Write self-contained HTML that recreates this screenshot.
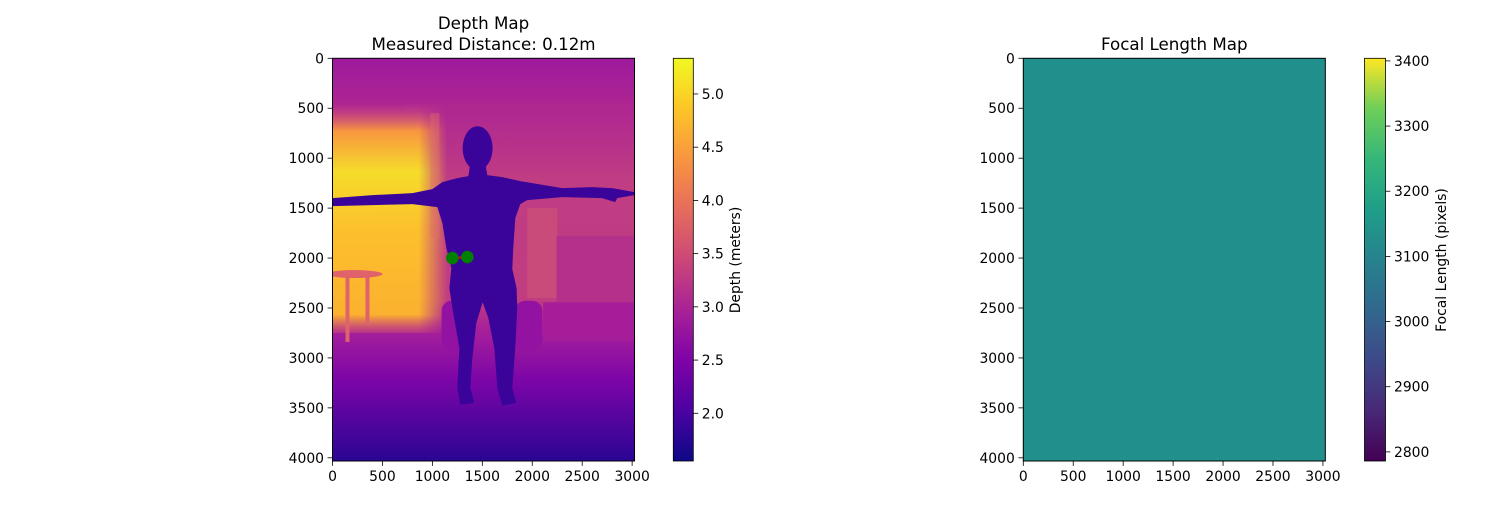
<!DOCTYPE html>
<html><head><meta charset="utf-8"><style>
body{margin:0;background:#fff;}
svg text{font-family:"DejaVu Sans","Liberation Sans",sans-serif;fill:#000;}
</style></head><body>
<svg id="fig" width="1500" height="500" viewBox="0 0 1500 500" xmlns="http://www.w3.org/2000/svg">
<defs>
<linearGradient id="bgGrad" x1="0" y1="0" x2="0" y2="1">
<stop offset="0" stop-color="#9e199d"/><stop offset="0.12" stop-color="#ad2692"/>
<stop offset="0.3" stop-color="#c03c83"/><stop offset="0.6" stop-color="#c03d82"/>
<stop offset="0.67" stop-color="#a8219a"/><stop offset="0.8" stop-color="#7c05a8"/>
<stop offset="1" stop-color="#2a0593"/></linearGradient>
<linearGradient id="yelV" x1="0" y1="0" x2="0" y2="1">
<stop offset="0" stop-color="#d8577a" stop-opacity="0"/><stop offset="0.12" stop-color="#f8963f"/>
<stop offset="0.3" stop-color="#f6dc2a"/><stop offset="0.55" stop-color="#fcc02c"/>
<stop offset="0.92" stop-color="#fbb12f"/><stop offset="1" stop-color="#e56a5e" stop-opacity="0.3"/></linearGradient>
<linearGradient id="fadeH" x1="0" y1="0" x2="1" y2="0">
<stop offset="0" stop-color="#fff"/><stop offset="0.75" stop-color="#fff"/><stop offset="1" stop-color="#fff" stop-opacity="0"/></linearGradient>
<mask id="yelMask" maskUnits="userSpaceOnUse" x="0" y="0" width="3024" height="4032"><rect x="0" y="0" width="1150" height="4032" fill="url(#fadeH)"/></mask>
<linearGradient id="plasmaGrad" x1="0" y1="1" x2="0" y2="0">
<stop offset="0" stop-color="#0d0887"/><stop offset="0.125" stop-color="#4c02a1"/><stop offset="0.25" stop-color="#7e03a8"/>
<stop offset="0.375" stop-color="#a82296"/><stop offset="0.5" stop-color="#cc4778"/><stop offset="0.625" stop-color="#e66c5c"/>
<stop offset="0.75" stop-color="#f89540"/><stop offset="0.875" stop-color="#fdc527"/><stop offset="1" stop-color="#f0f921"/></linearGradient>
<linearGradient id="viridisGrad" x1="0" y1="1" x2="0" y2="0">
<stop offset="0" stop-color="#440154"/><stop offset="0.125" stop-color="#482878"/><stop offset="0.25" stop-color="#3e4989"/>
<stop offset="0.375" stop-color="#31688e"/><stop offset="0.5" stop-color="#26828e"/><stop offset="0.625" stop-color="#1f9e89"/>
<stop offset="0.75" stop-color="#35b779"/><stop offset="0.875" stop-color="#6ece58"/><stop offset="1" stop-color="#fde725"/></linearGradient>
<clipPath id="imgClip"><rect x="0" y="0" width="3024" height="4032"/></clipPath>
</defs>
<g id="root"></g>
</svg>
<script>
const imgW = 3024, imgH = 4032;
const xTicks = [0,500,1000,1500,2000,2500,3000];
const yTicks = [0,500,1000,1500,2000,2500,3000,3500,4000];
const depthTicks = [2.0,2.5,3.0,3.5,4.0,4.5,5.0];
const depthRange = [1.552,5.335];
const focalTicks = [2800,2900,3000,3100,3200,3300,3400];
const focalRange = [2786,3404];
const focalValue = 3100;
const measuredDistance = 0.12;
const pointX = [1200,1350];
const pointY = [2000,1990];

const NS="http://www.w3.org/2000/svg";
const root=document.getElementById('root');
function mk(tag,attrs,parent){const e=document.createElementNS(NS,tag);for(const k in attrs)e.setAttribute(k,attrs[k]);(parent||root).appendChild(e);return e;}
function txt(s,x,y,anchor,size,parent){const t=mk('text',{x:x,y:y,'text-anchor':anchor,'font-size':size},parent);t.textContent=s;return t;}

const axTop=58.3, axBot=461.0, scale=(axBot-axTop)/imgH;
function makeAxes(left,name){
  const g=mk('g',{});
  
  
  const right=left+imgW*scale;
  const sx=v=>left+v*scale, sy=v=>axTop+v*scale;
  return {g,left,right,sx,sy};
}
function frameAndTicks(a){
  mk('rect',{x:a.left,y:axTop,width:a.right-a.left,height:axBot-axTop,fill:'none',stroke:'#000','stroke-width':1},a.g);
  xTicks.forEach(v=>{const x=a.sx(v);mk('line',{x1:x,x2:x,y1:axBot,y2:axBot+4.9,stroke:'#000','stroke-width':0.8},a.g);
    const t=txt(String(v),x,axBot+20,'middle',13.9,a.g);});
  yTicks.forEach(v=>{const y=a.sy(v);mk('line',{x1:a.left-4.9,x2:a.left,y1:y,y2:y,stroke:'#000','stroke-width':0.8},a.g);
    const t=txt(String(v),a.left-8.5,y+5,'end',13.9,a.g);});
}
function colorbar(x0,w,grad,ticks,range,fmt,name){
  const g=mk('g',{});
  
  
  mk('rect',{x:x0,y:axTop,width:w,height:axBot-axTop,fill:'url(#'+grad+')',stroke:'#000','stroke-width':0.8},g);
  const cy=v=>axBot-(v-range[0])/(range[1]-range[0])*(axBot-axTop);
  ticks.forEach(v=>{const y=cy(v);mk('line',{x1:x0+w,x2:x0+w+4.9,y1:y,y2:y,stroke:'#000','stroke-width':0.8},g);
    const t=txt(fmt(v),x0+w+8.5,y+5,'start',13.9,g);});
  return {g,cy};
}

// Depth map
const A=makeAxes(332.5,'depth-map');
const img=mk('g',{transform:`translate(${A.left},${axTop}) scale(${scale})`,'clip-path':'url(#imgClip)'},A.g);


mk('rect',{x:0,y:0,width:imgW,height:imgH,fill:'url(#bgGrad)'},img);
mk('rect',{x:700,y:450,width:2300,height:80,fill:'#b02a90',opacity:0.5},img);
mk('rect',{x:0,y:450,width:1150,height:2300,fill:'url(#yelV)',mask:'url(#yelMask)'},img);
mk('rect',{x:980,y:550,width:90,height:1250,fill:'#e0706a',opacity:0.4},img);
mk('rect',{x:1950,y:1500,width:300,height:900,fill:'#d05a72',opacity:0.5},img);
mk('rect',{x:2243,y:1777,width:781,height:666,fill:'#b3308b'},img);
mk('rect',{x:2110,y:2443,width:914,height:384,fill:'#a51d98'},img);
mk('rect',{x:1093,y:2427,width:230,height:500,rx:100,fill:'#9412a1'},img);
mk('rect',{x:1830,y:2427,width:270,height:500,rx:100,fill:'#9412a1'},img);
mk('ellipse',{cx:220,cy:2160,rx:280,ry:40,fill:'#e0626b'},img);
mk('rect',{x:130,y:2160,width:40,height:680,fill:'#e0626b'},img);
mk('rect',{x:330,y:2160,width:40,height:500,fill:'#e0626b'},img);
const head=mk('ellipse',{cx:1453,cy:900,rx:150,ry:220,fill:'#3a049b'},img);


const person=mk('polygon',{fill:'#3a049b',points:"0,1400 400,1370 800,1350 1000,1310 1100,1240 1250,1200 1360,1180 1380,1050 1530,1050 1550,1170 1700,1190 1880,1230 2300,1300 2600,1290 2800,1300 3024,1340 3024,1370 2850,1400 2830,1440 2700,1400 2300,1390 1950,1420 1880,1460 1830,1600 1810,1900 1800,2110 1843,2300 1850,2500 1830,2900 1800,3300 1840,3450 1700,3480 1650,3300 1620,2900 1560,2600 1503,2443 1440,2650 1400,3000 1380,3300 1420,3450 1280,3470 1250,3300 1270,2900 1200,2500 1170,2300 1190,2100 1140,1900 1100,1650 1050,1490 800,1460 400,1470 0,1480"},img);


const ml=mk('line',{x1:A.sx(pointX[0]),y1:A.sy(pointY[0]),x2:A.sx(pointX[1]),y2:A.sy(pointY[1]),stroke:'red','stroke-width':2},A.g);


pointX.forEach((px,i)=>{const c=mk('circle',{cx:A.sx(px),cy:A.sy(pointY[i]),r:6.3,fill:'green'},A.g);
  
  });
frameAndTicks(A);
const t1=txt('Depth Map',(A.left+A.right)/2,29,'middle',16.7);


const t2=txt('Measured Distance: '+measuredDistance.toFixed(2)+'m',(A.left+A.right)/2,50,'middle',16.7);


colorbar(673.3,20,'plasmaGrad',depthTicks,depthRange,v=>v.toFixed(1),'depth-colorbar');
const l1=txt('Depth (meters)',0,0,'middle',13.9);
l1.setAttribute('transform','translate(740,260) rotate(-90)');



// Focal map
const B=makeAxes(1023.3,'focal-length-map');
colorbar(1364.5,21,'viridisGrad',focalTicks,focalRange,v=>String(v),'focal-colorbar');
const fr=mk('rect',{x:B.left,y:axTop,width:B.right-B.left,height:axBot-axTop,fill:'#21908d'},B.g);


frameAndTicks(B);
const t3=txt('Focal Length Map',(B.left+B.right)/2,50,'middle',16.7);


const l2=txt('Focal Length (pixels)',0,0,'middle',13.9);
l2.setAttribute('transform','translate(1446,260) rotate(-90)');


</script>
</body></html>
